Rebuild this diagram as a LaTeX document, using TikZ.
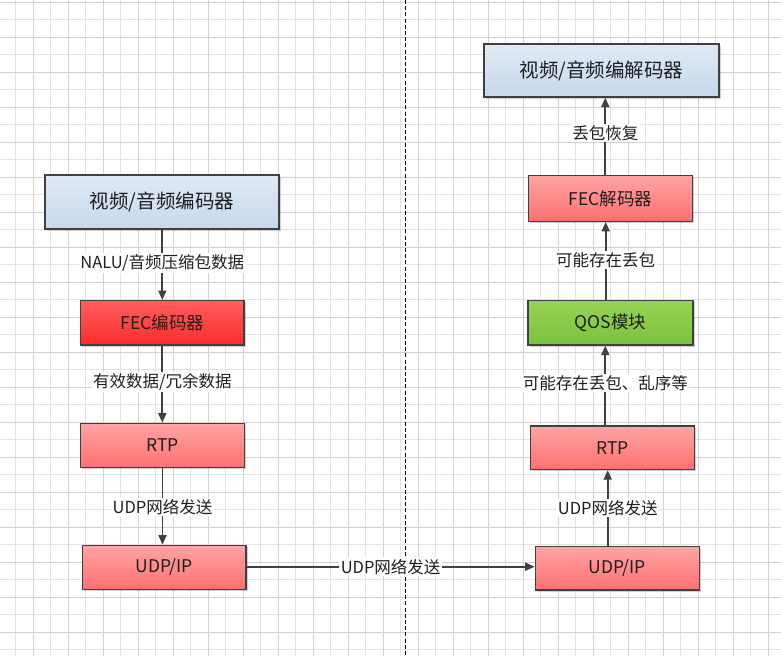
\documentclass[tikz,border=0pt]{standalone}
\usepackage{fontspec}
\setmainfont{Noto Sans CJK SC}
\usetikzlibrary{arrows.meta,calc,shadows}
\definecolor{gminorc}{HTML}{E3E3E3}
\definecolor{gmajorc}{HTML}{D2D2D2}
\definecolor{edgec}{HTML}{404040}
\definecolor{txtc}{HTML}{1F1F1F}
\definecolor{blueT}{HTML}{E0EAF4}
\definecolor{blueB}{HTML}{C6D8EA}
\definecolor{redT}{HTML}{FF5E5E}
\definecolor{redB}{HTML}{FF2C2C}
\definecolor{pinkT}{HTML}{FFA4A4}
\definecolor{pinkB}{HTML}{FF7070}
\definecolor{greenT}{HTML}{96D255}
\definecolor{greenB}{HTML}{7BC23F}
\begin{document}
\begin{tikzpicture}[x=1pt,y=1pt,
  gminor/.style={draw=gminorc,line width=1pt},
  gmajor/.style={draw=gmajorc,line width=1pt},
  box/.style={draw=edgec,line width=1.3pt,inner sep=0pt,text=txtc,
    font=\fontsize{17.5}{19}\selectfont,
    drop shadow={shadow xshift=1.6pt,shadow yshift=-1.6pt,fill=black,opacity=0.18}},
  bluebox/.style={box,top color=blueT,bottom color=blueB,font=\fontsize{19.5}{21}\selectfont},
  redbox/.style={box,top color=redT,bottom color=redB},
  pinkbox/.style={box,top color=pinkT,bottom color=pinkB},
  greenbox/.style={box,top color=greenT,bottom color=greenB},
  arr/.style={draw=edgec,line width=1.8pt,-{Triangle[width=8pt,length=9.5pt]}},
  lbl/.style={fill=white,inner sep=1.5pt,text=txtc,font=\fontsize{16.5}{18}\selectfont}
]
\useasboundingbox (0,0) rectangle (781,-656);
\fill[white] (0,0) rectangle (781,-656);
% grid
\foreach \k in {0,...,22} \draw[gminor] ({15.7+35*\k},0) -- ({15.7+35*\k},-656);
\foreach \k in {0,...,18} \draw[gminor] (0,{-19.8-35*\k}) -- (781,{-19.8-35*\k});
\foreach \k in {0,...,21} \draw[gmajor] ({33.2+35*\k},0) -- ({33.2+35*\k},-656);
\foreach \k in {0,...,18} \draw[gmajor] (0,{-2.3-35*\k}) -- (781,{-2.3-35*\k});
% divider
\coordinate (divT) at (405.3,0);
\coordinate (divB) at (405.3,-656);
\draw[black,line width=1pt,dash pattern=on 4pt off 2.2pt] (divT) -- (divB);
% left column
\node[bluebox,minimum width=234,minimum height=54] (enc) at (162,-202) {视频/音频编码器};
\node[redbox,minimum width=163.3,minimum height=44.3] (fecE) at (162.3,-322.8) {FEC编码器};
\node[pinkbox,minimum width=163.6,minimum height=44] (rtpL) at (162.5,-445.3) {RTP};
\node[pinkbox,minimum width=163.3,minimum height=44] (udpL) at (164.3,-567.3) {UDP/IP};
% right column
\node[bluebox,minimum width=235,minimum height=53] (dec) at (601.5,-70.5) {视频/音频编解码器};
\node[pinkbox,minimum width=164.4,minimum height=45.5] (fecD) at (610.5,-198.5) {FEC解码器};
\node[greenbox,minimum width=165,minimum height=44.3] (qos) at (610.5,-322.8) {QOS模块};
\node[pinkbox,minimum width=163.6,minimum height=43.5] (rtpR) at (612.5,-447.7) {RTP};
\node[pinkbox,minimum width=164,minimum height=43.5] (udpR) at (617.3,-568.3) {UDP/IP};
% left arrows
\draw[arr] (enc.south -| fecE.north) -- node[lbl,pos=0.47]{NALU/音频压缩包数据} (fecE.north);
\draw[arr] (fecE.south) -- node[lbl,pos=0.47]{有效数据/冗余数据} (fecE.south |- rtpL.north);
\draw[arr] (rtpL.south) -- node[lbl,pos=0.51]{UDP网络发送} (rtpL.south |- udpL.north);
% horizontal
\draw[arr] ([yshift=0.6pt]udpL.east) -- node[lbl,pos=0.5]{UDP网络发送} ([yshift=0.6pt]udpL.east -| udpR.west);
% right arrows
\draw[arr] ([xshift=-9.6pt]udpR.north) -- node[lbl,pos=0.5]{UDP网络发送} ([xshift=-9.6pt]udpR.north |- rtpR.south);
\draw[arr] ([xshift=-7.2pt]rtpR.north) -- node[lbl,pos=0.53]{可能存在丢包、乱序等} ([xshift=-7.2pt]rtpR.north |- qos.south);
\draw[arr] ([xshift=-4.8pt]qos.north) -- node[lbl,pos=0.515]{可能存在丢包} ([xshift=-4.8pt]qos.north |- fecD.south);
\draw[arr] ([xshift=-5.2pt]fecD.north) -- node[lbl,pos=0.54]{丢包恢复} ([xshift=-5.2pt]fecD.north |- dec.south);
\end{tikzpicture}
\end{document}
